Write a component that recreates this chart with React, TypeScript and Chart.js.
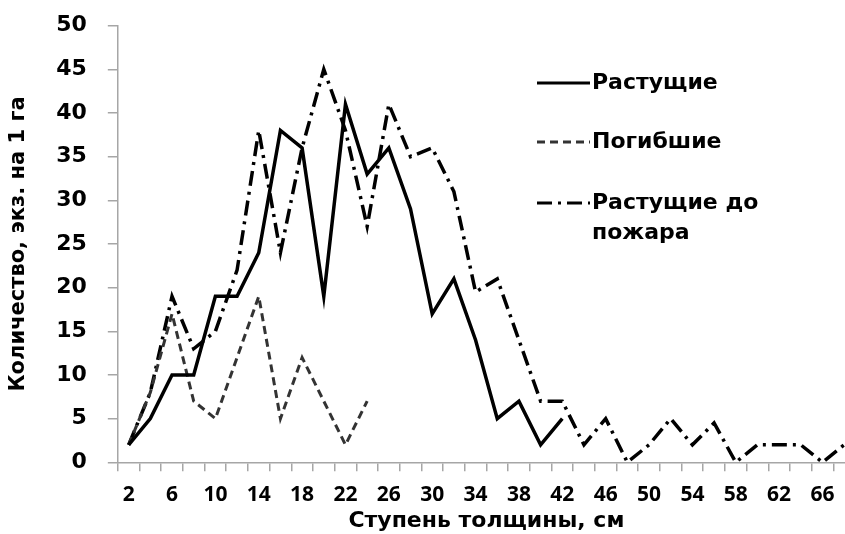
import React, { useEffect, useRef } from "react";
import { Chart, registerables } from "chart.js";

Chart.register(...registerables);

const categories = [
  "2", "4", "6", "8", "10", "12", "14", "16", "18", "20", "22", "24",
  "26", "28", "30", "32", "34", "36", "38", "40", "42", "44", "46", "48",
  "50", "52", "54", "56", "58", "60", "62", "64", "66", "68",
];

const growing = [
  2, 5, 10, 10, 19, 19, 24, 38, 36, 19, 41, 33, 36, 29, 17, 21, 14, 5, 7, 2, 5,
];

const dead = [2, 8, 17, 7, 5, 12, 19, 5, 12, 7, 2, 7];

const growingBeforeFire = [
  2, 8, 19, 13, 15, 22, 38, 24, 36, 45, 38, 27, 41, 35, 36, 31, 19.5, 21, 14, 7,
  7, 2, 5, 0, 2, 5, 2, 4.5, 0, 2, 2, 2, 0, 2,
];

const seriesNames = ["Растущие", "Погибшие", "Растущие до", "пожара"];

const yTicks = [0, 5, 10, 15, 20, 25, 30, 35, 40, 45, 50];

const DASHED = [8, 5];
const DASHDOT = [15, 6, 3, 6];

const legendPlugin = {
  id: "customLegend",
  afterDraw(chart: any) {
    const ctx = chart.ctx;
    ctx.save();
    const x0 = 537;
    const x1 = 590;
    const rows = [
      { y: 83, dash: [] as number[], color: "#000", text: seriesNames[0] },
      { y: 142, dash: DASHED, color: "#333", text: seriesNames[1] },
      { y: 203, dash: DASHDOT, color: "#000", text: seriesNames[2] },
    ];
    rows.forEach((r) => {
      ctx.beginPath();
      ctx.setLineDash(r.dash);
      ctx.strokeStyle = r.color;
      ctx.lineWidth = 3;
      ctx.moveTo(x0, r.y);
      ctx.lineTo(x1, r.y);
      ctx.stroke();
    });
    ctx.setLineDash([]);
    ctx.fillStyle = "#000";
    ctx.font = "bold 22px 'DejaVu Sans'";
    ctx.textAlign = "left";
    ctx.textBaseline = "middle";
    rows.forEach((r) => ctx.fillText(r.text, 592, r.y));
    ctx.fillText(seriesNames[3], 592, 233);
    ctx.restore();
  },
};

export default function App() {
  const ref = useRef<HTMLCanvasElement | null>(null);

  useEffect(() => {
    if (!ref.current) return;
    const chart = new Chart(ref.current, {
      type: "line",
      data: {
        labels: categories,
        datasets: [
          {
            label: seriesNames[0],
            data: growing,
            borderColor: "#000",
            borderWidth: 3.5,
            pointRadius: 0,
            tension: 0,
            fill: false,
          },
          {
            label: seriesNames[1],
            data: dead,
            borderColor: "#333",
            borderWidth: 3,
            borderDash: DASHED,
            pointRadius: 0,
            tension: 0,
            fill: false,
          },
          {
            label: seriesNames[2] + " " + seriesNames[3],
            data: growingBeforeFire,
            borderColor: "#000",
            borderWidth: 3.5,
            borderDash: DASHDOT,
            pointRadius: 0,
            tension: 0,
            fill: false,
          },
        ],
      },
      options: {
        responsive: false,
        animation: false,
        layout: { padding: { top: 25.6, right: 15, left: 5.5, bottom: 0 } },
        plugins: {
          legend: { display: false },
          tooltip: { enabled: false },
        },
        scales: {
          x: {
            type: "category",
            offset: true,
            afterFit: (s: any) => {
              s.height = 71.7;
            },
            grid: {
              offset: true,
              drawOnChartArea: false,
              drawTicks: true,
              tickLength: 9,
              color: "#a6a6a6",
              lineWidth: 1.5,
            },
            border: { color: "#a6a6a6", width: 1.5 },
            ticks: {
              autoSkip: false,
              maxRotation: 0,
              padding: 11,
              color: "#000",
              font: { family: "'Open Sans'", size: 21, weight: "bold" },
              callback: (_v: any, i: number) => (i % 2 === 0 ? categories[i] : ""),
            },
            title: {
              display: true,
              text: "Ступень толщины, см",
              color: "#000",
              font: { family: "'DejaVu Sans'", size: 22, weight: "bold" },
              padding: { top: 0, bottom: 0 },
            },
          },
          y: {
            min: 0,
            max: 50,
            afterBuildTicks: (axis: any) => {
              axis.ticks = yTicks.map((v) => ({ value: v }));
            },
            afterFit: (s: any) => {
              s.paddingTop = 0;
              s.paddingBottom = 0;
            },
            grid: {
              drawOnChartArea: false,
              drawTicks: true,
              tickLength: 10,
              color: "#a6a6a6",
              lineWidth: 1.5,
            },
            border: { color: "#a6a6a6", width: 1.5 },
            ticks: {
              padding: 21,
              color: "#000",
              font: { family: "'DejaVu Sans'", size: 22, weight: "bold" },
            },
            title: {
              display: true,
              text: "Количество, экз. на 1 га",
              color: "#000",
              font: { family: "'DejaVu Sans'", size: 21, weight: "bold" },
              padding: { top: 0, bottom: 4.5 },
            },
          },
        },
      },
      plugins: [legendPlugin],
    });
    return () => chart.destroy();
  }, []);

  return (
    <div
      style={{
        position: "absolute",
        left: 0,
        top: 0,
        width: 845,
        height: 534,
        overflow: "hidden",
        background: "#fff",
      }}
    >
      <canvas ref={ref} width={870} height={534} style={{ width: 870, height: 534 }} />
    </div>
  );
}
